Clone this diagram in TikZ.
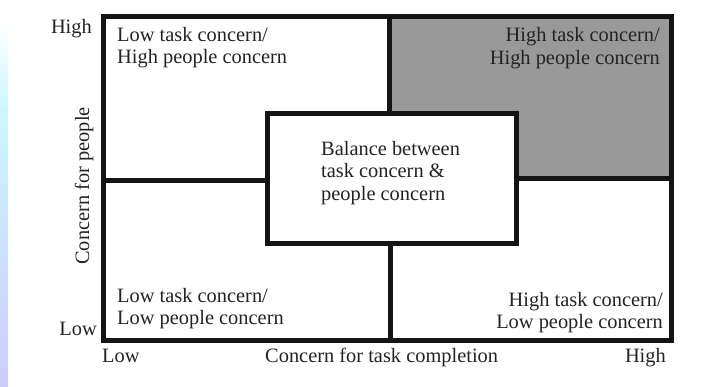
\documentclass[tikz,border=0pt]{standalone}
\usepackage{fontspec}
\setmainfont{Liberation Serif}
\definecolor{cellgray}{RGB}{153,153,153}
\definecolor{inkline}{RGB}{20,20,20}
\definecolor{inktext}{RGB}{35,35,35}
\definecolor{stripcyan}{RGB}{204,246,255}
\definecolor{striplav}{RGB}{204,204,255}
\tikzset{
  grid line/.style={draw=inkline, line width=5pt},
  lbl/.style={inner sep=0pt, text=inktext, font=\fontsize{20.4}{22.5}\selectfont},
}
\begin{document}
\begin{tikzpicture}[x=1pt,y=-1pt]
  \useasboundingbox (0,0) rectangle (714,386);
  % soft coloured strip along the left edge
  \shade[top color=white, bottom color=stripcyan] (0,20) rectangle (8,110);
  \shade[top color=stripcyan, bottom color=striplav] (0,110) rectangle (8,386);

  % shaded high/high cell
  \fill[cellgray] (389,16) rectangle (671,178);

  % outer frame and dividers
  \coordinate (tl) at (103,16);
  \coordinate (br) at (671,340);
  \coordinate (topmid) at (389,16);
  \coordinate (botmid) at (390,340);
  \coordinate (leftmid) at (103,180);
  \coordinate (rightmid) at (671,178);

  \node[grid line, fill=white, minimum width=249pt, minimum height=130pt,
        inner sep=0pt, anchor=north west] (balance) at (265,111) {};

  \draw[grid line] (topmid) -- (topmid |- balance.north);
  \draw[grid line] (botmid) -- (botmid |- balance.south);
  \draw[grid line] (leftmid) -- (balance.west |- leftmid);
  \draw[grid line] (rightmid) -- (balance.east |- rightmid);
  \draw[grid line] (tl) rectangle (br);

  % cell texts (base anchor sits on the last line)
  \node[lbl, align=left, anchor=base west] (lowhigh) at (117,63.5)
    {Low task concern/\\High people concern};
  \node[lbl, align=right, anchor=base east] (highhigh) at (660,64)
    {High task concern/\\High people concern};
  \node[lbl, align=left, anchor=base west] (mid) at (321,200)
    {Balance between\\task concern \&\\people concern};
  \node[lbl, align=left, anchor=base west] (lowlow) at (117,324.5)
    {Low task concern/\\Low people concern};
  \node[lbl, align=right, anchor=base east] (highlow) at (663,328.5)
    {High task concern/\\Low people concern};

  % axis labels
  \node[lbl, anchor=base east] (yhigh) at (92,33) {High};
  \node[lbl, anchor=base east] (ylow) at (97,335) {Low};
  \node[lbl, anchor=base, rotate=90] (ytitle) at (89,186) {Concern for people};
  \node[lbl, anchor=base west] (xlow) at (102,362) {Low};
  \node[lbl, anchor=base west] (xtitle) at (265,362) {Concern for task completion};
  \node[lbl, anchor=base east] (xhigh) at (666,362) {High};
\end{tikzpicture}
\end{document}
